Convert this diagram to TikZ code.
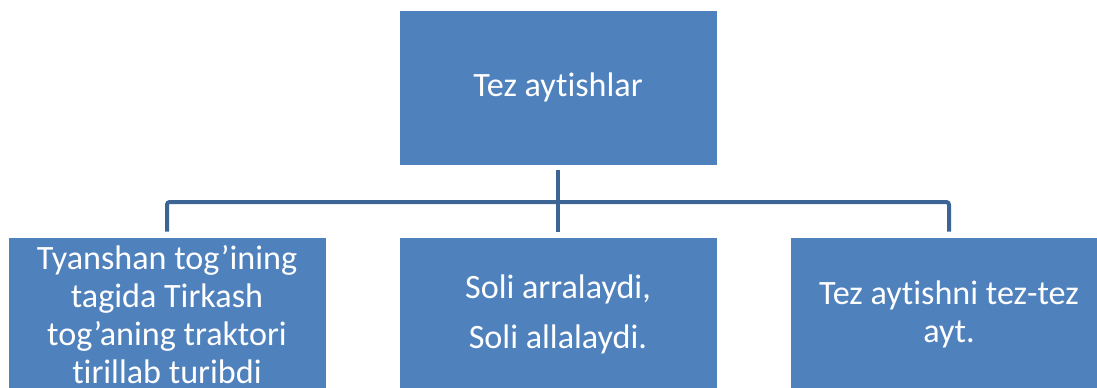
\documentclass[tikz,border=0pt]{standalone}
\usepackage{fontspec}
\setmainfont{Carlito}[Ligatures={NoCommon}]
\definecolor{boxblue}{HTML}{4F81BD}
\definecolor{lineblue}{HTML}{3C6494}
\tikzset{
  box/.style={rectangle, fill=boxblue, draw=white, line width=0.6pt, text=white,
    minimum width=238.5pt, minimum height=116.25pt, inner sep=0pt, align=center,
    font=\fontsize{25.6}{28.5}\selectfont},
  conn/.style={draw=lineblue, line width=3pt, rounded corners=2pt,
    shorten <=3.75pt, shorten >=3.75pt}
}
\begin{document}
\begin{tikzpicture}[x=0.75pt,y=0.75pt,yscale=-1,xscale=1]
\useasboundingbox (0,0) rectangle (1097,387);

% Boxes
\node [box] (top) at (558,87.5) {Tez aytishlar};
\node [box] (left) at (167,314.5) {Tyanshan tog’ining\\tagida Tirkash\\tog’aning traktori\\tirillab turibdi};
\node [box] (mid) at (558,314.5) {Soli arralaydi,\\[9pt]Soli allalaydi.};
\node [box] (right) at (949,314.5) {Tez aytishni tez-tez\\ayt.};

% Connectors
\coordinate (bus) at (558,202);
\draw [conn] (top.south) -- (mid.north);
\draw [conn] (left.north) |- (bus) -| (right.north);

\end{tikzpicture}
\end{document}
